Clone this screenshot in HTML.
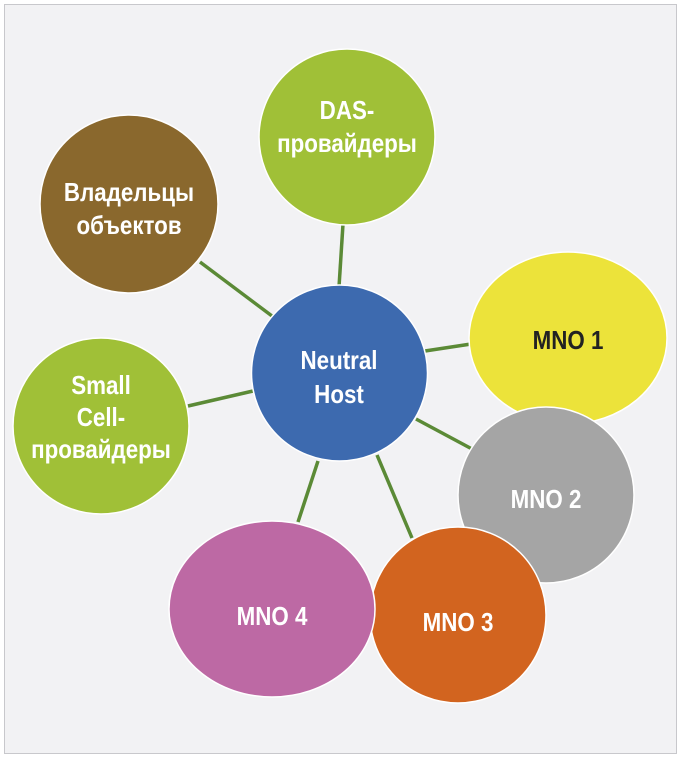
<!DOCTYPE html>
<html><head><meta charset="utf-8"><style>
html,body{margin:0;padding:0;background:#fff}
svg{display:block}
text{font-family:"Liberation Sans",sans-serif;font-weight:bold;font-size:26px;text-anchor:middle}
</style></head><body>
<svg width="681" height="758" viewBox="0 0 681 758">
<rect x="4.5" y="4.5" width="672" height="749" fill="#f2f2f4" stroke="#c8c8cc" stroke-width="1"/>
<g stroke="#5b8a36" stroke-width="3.5">
<line x1="343" y1="224" x2="339" y2="287"/>
<line x1="200" y1="262" x2="272" y2="316"/>
<line x1="188" y1="406" x2="253" y2="391"/>
<line x1="425" y1="351" x2="471" y2="344"/>
<line x1="416" y1="419" x2="472" y2="449"/>
<line x1="377" y1="455" x2="412" y2="538"/>
<line x1="318" y1="461" x2="298" y2="522"/>
</g>
<g stroke="#fff" stroke-width="1.5">
<circle cx="347" cy="137" r="88" fill="#a0c037"/>
<circle cx="129" cy="204" r="89" fill="#8a682d"/>
<circle cx="101" cy="426" r="88" fill="#a0c037"/>
<ellipse cx="568" cy="338" rx="99" ry="86" fill="#ece33a"/>
<circle cx="546" cy="495" r="88" fill="#a5a5a5"/>
<circle cx="458" cy="615" r="88" fill="#d2641f"/>
<ellipse cx="272" cy="609" rx="103" ry="88" fill="#bd69a4"/>
<circle cx="339.5" cy="373" r="88" fill="#3d6aaf"/>
</g>
<g fill="#fff">
<text transform="translate(347,119) scale(0.86,1)">DAS-</text>
<text transform="translate(347,152) scale(0.86,1)">провайдеры</text>
<text transform="translate(129,201) scale(0.86,1)">Владельцы</text>
<text transform="translate(129,234) scale(0.86,1)">объектов</text>
<text transform="translate(101,394) scale(0.86,1)">Small</text>
<text transform="translate(101,426) scale(0.86,1)">Cell-</text>
<text transform="translate(101,458) scale(0.86,1)">провайдеры</text>
<text transform="translate(339,369) scale(0.86,1)">Neutral</text>
<text transform="translate(339,403) scale(0.86,1)">Host</text>
<text transform="translate(546,508) scale(0.86,1)">MNO 2</text>
<text transform="translate(458,631) scale(0.86,1)">MNO 3</text>
<text transform="translate(272,625) scale(0.86,1)">MNO 4</text>
</g>
<text transform="translate(568,349) scale(0.86,1)" fill="#222">MNO 1</text>
</svg>
</body></html>
